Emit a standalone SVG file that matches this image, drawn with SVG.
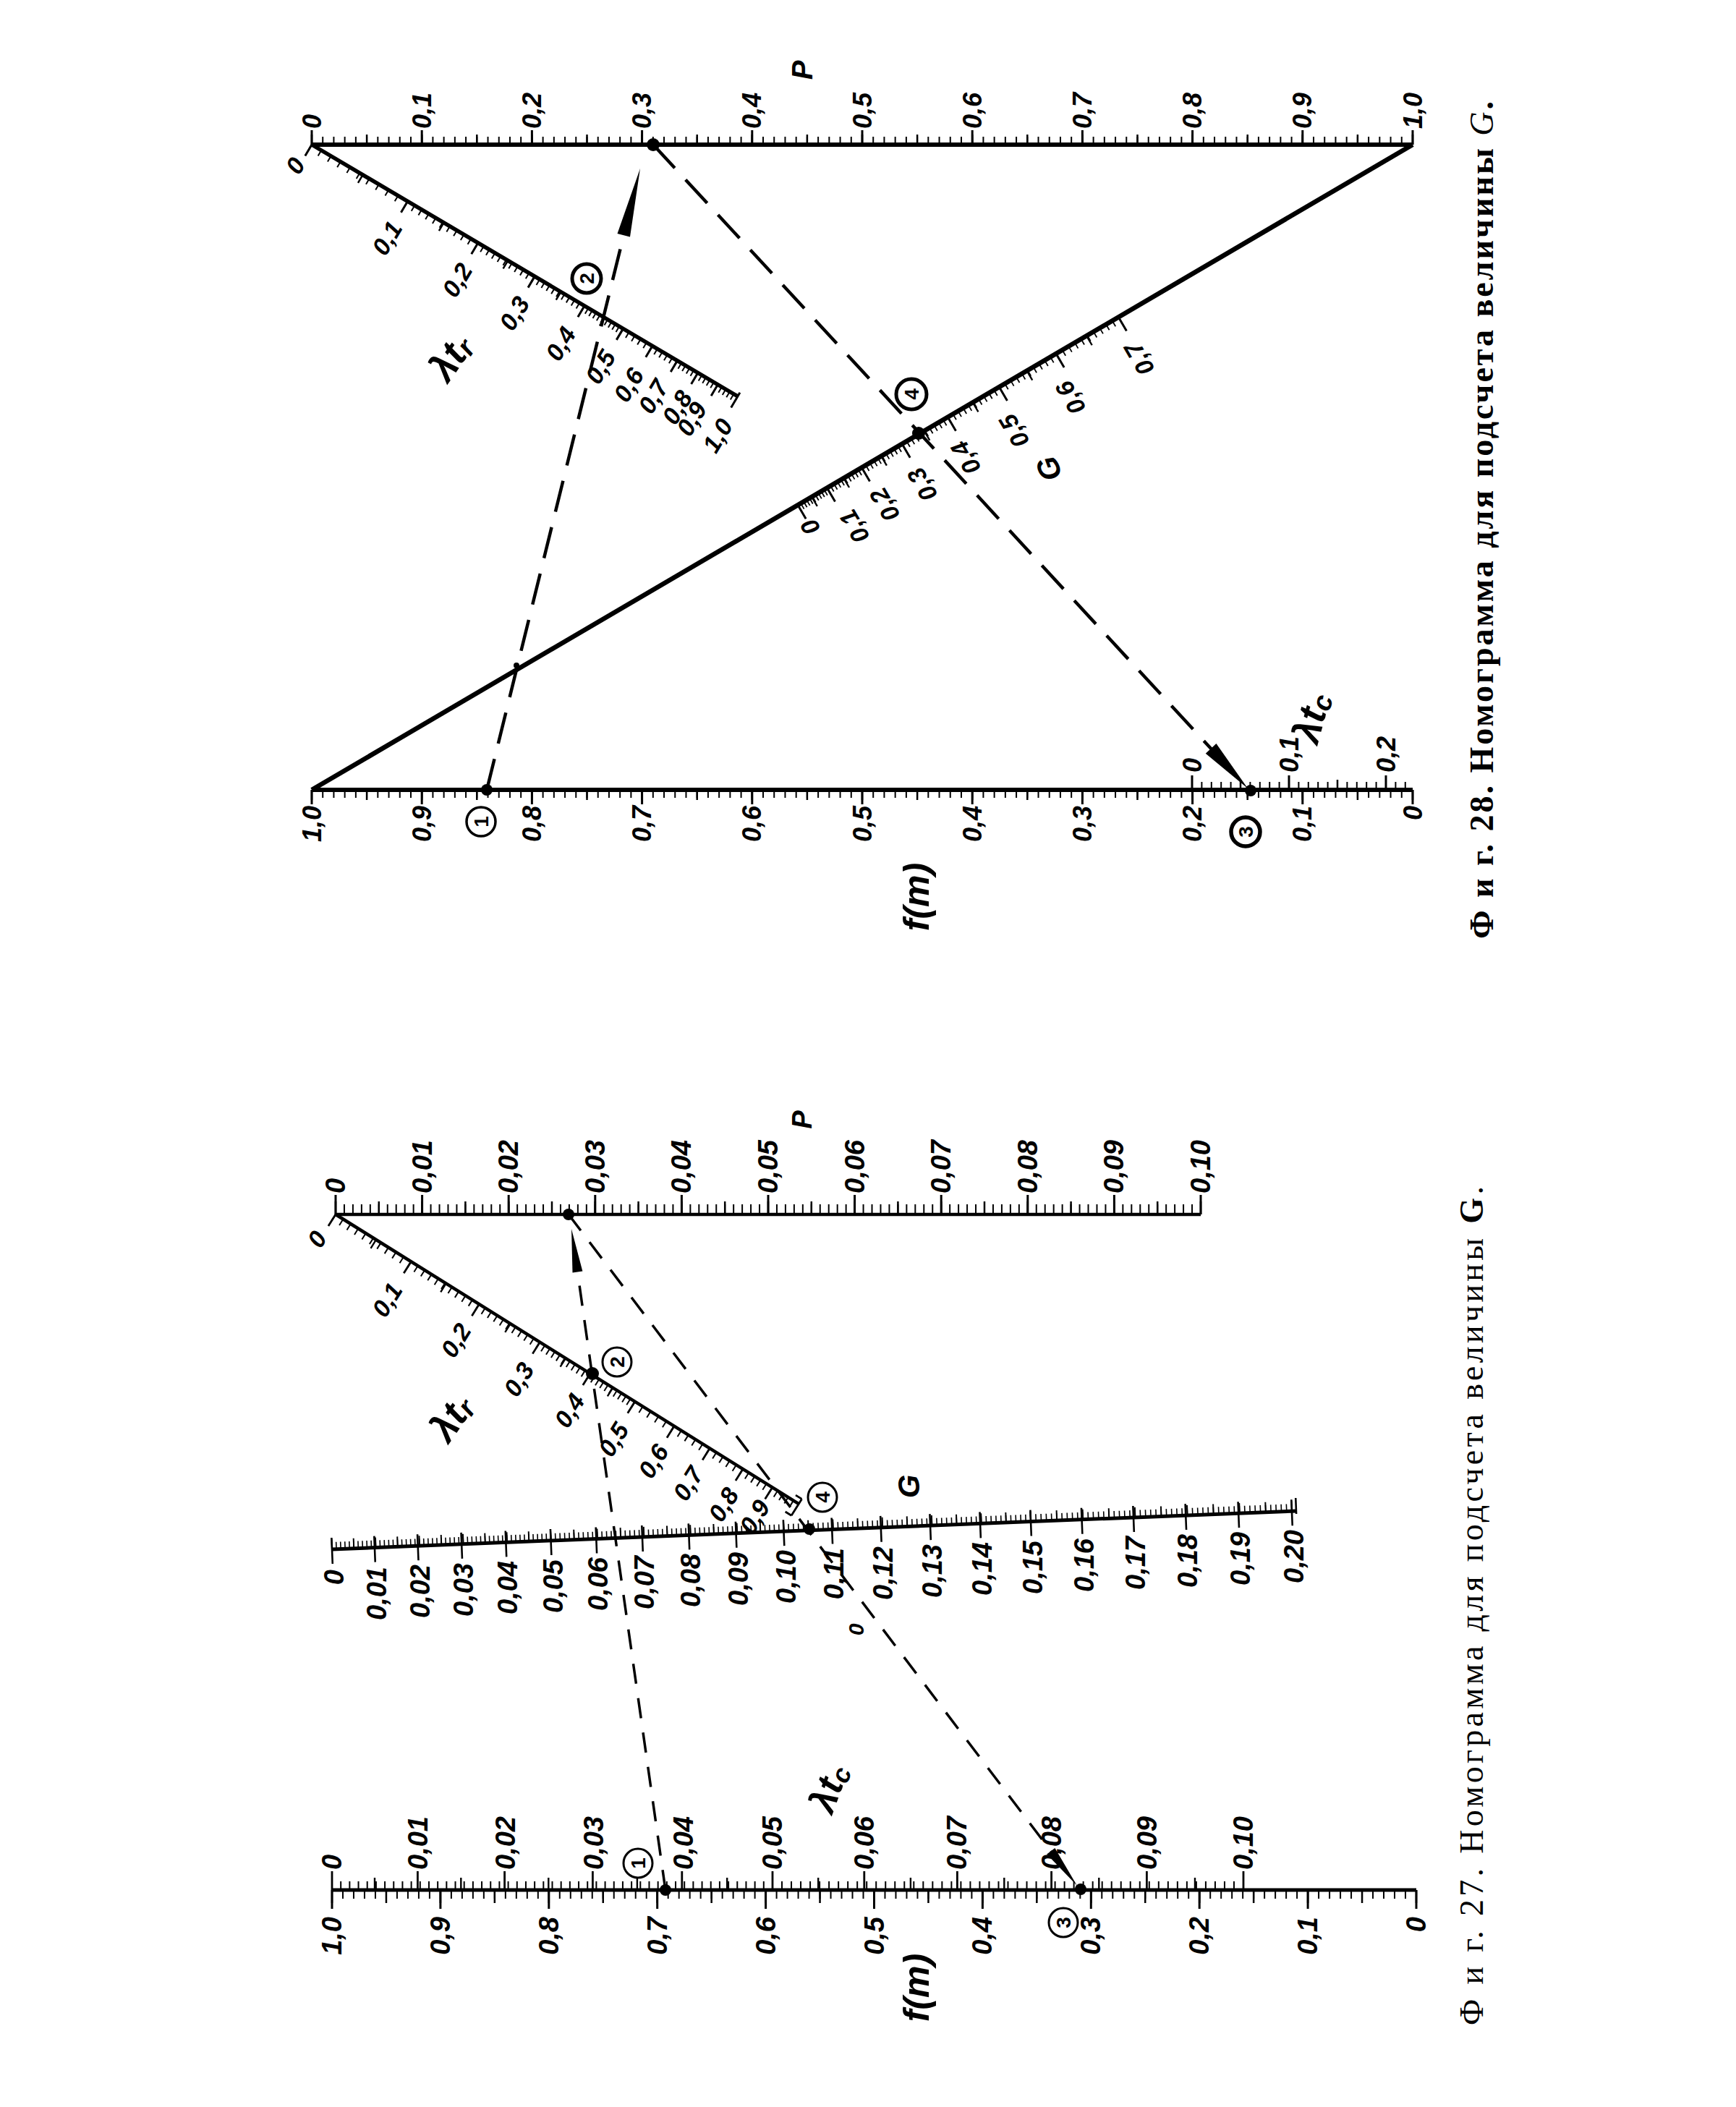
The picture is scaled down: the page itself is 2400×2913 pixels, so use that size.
<svg xmlns="http://www.w3.org/2000/svg" width="2400" height="2913" viewBox="0 0 2400 2913">
<style>
.ln{stroke:#000;fill:none;stroke-linecap:butt}
.tk{stroke:#000;fill:none}
.d28{stroke:#000;fill:none;stroke-width:4.5;stroke-dasharray:44 22}
.d27{stroke:#000;fill:none;stroke-width:3.5;stroke-dasharray:28 20}
.t{font-family:"Liberation Sans",Arial,sans-serif;font-style:italic;font-weight:bold;dominant-baseline:central;fill:#000}
.a{font-size:36px}
.b{font-size:38px}
.r{font-size:34px}
.e{text-anchor:end}
.m{text-anchor:middle}
.c{fill:none;stroke:#000}
.cd{font-family:"Liberation Sans",Arial,sans-serif;font-weight:bold;font-size:28px;text-anchor:middle;dominant-baseline:central;fill:#000}
.cap{font-family:"Liberation Serif","Times New Roman",serif;font-size:46px;fill:#000}
.dot{fill:#000}
</style>
<rect width="2400" height="2913" fill="#fff"/>

<!-- ===================== FIG 28 ===================== -->
<g id="fig28">
 <g id="fig28-P-scale">
  <line class="ln" x1="431" y1="200" x2="1953" y2="200" stroke-width="6"/>
  <line class="tk" x1="430" y1="194.5" x2="1954" y2="194.5" stroke-width="11" stroke-dasharray="2 13.22"/>
  <line class="tk" x1="429.75" y1="193" x2="1954.25" y2="193" stroke-width="14" stroke-dasharray="2.5 73.6"/>
  <line class="tk" x1="429.5" y1="190" x2="1954.5" y2="190" stroke-width="20" stroke-dasharray="3 149.2"/>
  <text class="t a" transform="translate(431,178) rotate(-90)">0</text>
  <text class="t a" transform="translate(583.2,178) rotate(-90)">0,1</text>
  <text class="t a" transform="translate(735.4,178) rotate(-90)">0,2</text>
  <text class="t a" transform="translate(887.6,178) rotate(-90)">0,3</text>
  <text class="t a" transform="translate(1039.8,178) rotate(-90)">0,4</text>
  <text class="t a" transform="translate(1192,178) rotate(-90)">0,5</text>
  <text class="t a" transform="translate(1344.2,178) rotate(-90)">0,6</text>
  <text class="t a" transform="translate(1496.4,178) rotate(-90)">0,7</text>
  <text class="t a" transform="translate(1648.6,178) rotate(-90)">0,8</text>
  <text class="t a" transform="translate(1800.8,178) rotate(-90)">0,9</text>
  <text class="t a" transform="translate(1953,178) rotate(-90)">1,0</text>
  <text class="t m" font-size="40" font-weight="normal" transform="translate(1109,97) rotate(-90)">P</text>
 </g>

 <g id="fig28-lambda-tr-scale">
  <g transform="translate(431,200) rotate(30.58)">
   <line class="ln" x1="0" y1="0" x2="684" y2="0" stroke-width="5.5"/>
   <g class="tk" stroke-width="9">
    <line x1="-1" y1="4.5" x2="155" y2="4.5" stroke-dasharray="2 13.4"/>
    <line x1="153" y1="4.5" x2="268" y2="4.5" stroke-dasharray="2 9.3"/>
    <line x1="266" y1="4.5" x2="359" y2="4.5" stroke-dasharray="2 7.1"/>
    <line x1="357" y1="4.5" x2="439" y2="4.5" stroke-dasharray="2 6"/>
    <line x1="437" y1="4.5" x2="501" y2="4.5" stroke-dasharray="2 4.2"/>
    <line x1="499" y1="4.5" x2="548" y2="4.5" stroke-dasharray="2 7.4"/>
    <line x1="546" y1="4.5" x2="588" y2="4.5" stroke-dasharray="2 6"/>
    <line x1="586" y1="4.5" x2="621" y2="4.5" stroke-dasharray="2 4.6"/>
    <line x1="619" y1="4.5" x2="653" y2="4.5" stroke-dasharray="2 4.4"/>
    <line x1="651" y1="4.5" x2="685" y2="4.5" stroke-dasharray="2 4.4"/>
   </g>
   <path class="tk" stroke-width="2.5" d="M82 0v13M212 0v13M315 0v13M400 0v13M470 0v13"/>
   <path class="tk" stroke-width="3" d="M0 0v18M154 0v18M267 0v18M358 0v18M438 0v18M500 0v18M547 0v18M587 0v18M620 0v18M652 0v18M684 -6v24"/>
  </g>
  <text class="t r m" transform="translate(408,229) rotate(-59)">0</text>
  <text class="t r m" transform="translate(535,329) rotate(-59)">0,1</text>
  <text class="t r m" transform="translate(632,387) rotate(-59)">0,2</text>
  <text class="t r m" transform="translate(711,433) rotate(-59)">0,3</text>
  <text class="t r m" transform="translate(775,475) rotate(-59)">0,4</text>
  <text class="t r m" transform="translate(830,507) rotate(-59)">0,5</text>
  <text class="t r m" transform="translate(869,532) rotate(-59)">0,6</text>
  <text class="t r m" transform="translate(903,548) rotate(-59)">0,7</text>
  <text class="t r m" transform="translate(936,563) rotate(-59)">0,8</text>
  <text class="t r m" transform="translate(956,579) rotate(-59)">0,9</text>
  <text class="t r m" transform="translate(992,602) rotate(-59)">1,0</text>
  <text class="t m" font-size="54" transform="translate(622,494) rotate(-55)">λt<tspan font-size="38" dy="10">r</tspan></text>
 </g>

 <g id="fig28-G-scale">
  <line class="ln" x1="431" y1="1092" x2="1953" y2="200" stroke-width="6.5"/>
  <g transform="translate(431,1092) rotate(-30.37)">
   <g class="tk" stroke-width="9">
    <line x1="778" y1="4.5" x2="826.6" y2="4.5" stroke-dasharray="1.8 2.88"/>
    <line x1="824.8" y1="4.5" x2="882.2" y2="4.5" stroke-dasharray="1.8 3.76"/>
    <line x1="880.4" y1="4.5" x2="946.8" y2="4.5" stroke-dasharray="1.8 4.66"/>
    <line x1="945" y1="4.5" x2="1020.1" y2="4.5" stroke-dasharray="1.8 5.53"/>
    <line x1="1018.3" y1="4.5" x2="1102.4" y2="4.5" stroke-dasharray="1.8 6.43"/>
    <line x1="1100.6" y1="4.5" x2="1193.6" y2="4.5" stroke-dasharray="1.8 7.32"/>
    <line x1="1191.8" y1="4.5" x2="1293.6" y2="4.5" stroke-dasharray="1.8 8.2"/>
   </g>
   <path class="tk" stroke-width="2.4" d="M801.2 0v15M852.4 0v15M912.5 0v15M981.4 0v15M1059.2 0v15M1145.9 0v15M1241.5 0v15"/>
   <path class="tk" stroke-width="3" d="M778.9 0v22M825.7 0v22M881.3 0v22M945.9 0v22M1019.2 0v22M1101.5 0v22M1192.7 0v22M1292.7 0v22"/>
  </g>
  <text class="t r m" transform="translate(1120,729) rotate(-120.4)">0</text>
  <text class="t r m" transform="translate(1181,728) rotate(-120.4)">0,1</text>
  <text class="t r m" transform="translate(1223,698) rotate(-120.4)">0,2</text>
  <text class="t r m" transform="translate(1275,670) rotate(-120.4)">0,3</text>
  <text class="t r m" transform="translate(1335,633) rotate(-120.4)">0,4</text>
  <text class="t r m" transform="translate(1402,596) rotate(-120.4)">0,5</text>
  <text class="t r m" transform="translate(1480,550) rotate(-120.4)">0,6</text>
  <text class="t r m" transform="translate(1575,496) rotate(-120.4)">0,7</text>
  <text class="t m" font-size="42" font-style="normal" transform="translate(1450,648) rotate(-110)">G</text>
 </g>

 <g id="fig28-f-scale">
  <line class="ln" x1="431" y1="1092" x2="1953" y2="1092" stroke-width="6"/>
  <line class="tk" x1="430" y1="1097.5" x2="1954" y2="1097.5" stroke-width="11" stroke-dasharray="2 13.22"/>
  <line class="tk" x1="429.75" y1="1099" x2="1954.25" y2="1099" stroke-width="14" stroke-dasharray="2.5 73.6"/>
  <line class="tk" x1="429.5" y1="1102" x2="1954.5" y2="1102" stroke-width="20" stroke-dasharray="3 149.2"/>
  <text class="t a e" transform="translate(431,1114) rotate(-90)">1,0</text>
  <text class="t a e" transform="translate(583.2,1114) rotate(-90)">0,9</text>
  <text class="t a e" transform="translate(735.4,1114) rotate(-90)">0,8</text>
  <text class="t a e" transform="translate(887.6,1114) rotate(-90)">0,7</text>
  <text class="t a e" transform="translate(1039.8,1114) rotate(-90)">0,6</text>
  <text class="t a e" transform="translate(1192,1114) rotate(-90)">0,5</text>
  <text class="t a e" transform="translate(1344.2,1114) rotate(-90)">0,4</text>
  <text class="t a e" transform="translate(1496.4,1114) rotate(-90)">0,3</text>
  <text class="t a e" transform="translate(1648.6,1114) rotate(-90)">0,2</text>
  <text class="t a e" transform="translate(1800.8,1114) rotate(-90)">0,1</text>
  <text class="t a e" transform="translate(1953,1114) rotate(-90)">0</text>
  <text class="t m" font-size="50" font-weight="normal" transform="translate(1267,1240) rotate(-90)">f(m)</text>
 </g>

 <g id="fig28-lambda-tc-scale">
  <line class="tk" x1="1647" y1="1086.5" x2="1954" y2="1086.5" stroke-width="11" stroke-dasharray="2 11.4"/>
  <path class="tk" stroke-width="2.5" d="M1715 1092V1078M1849 1092V1078"/>
  <path class="tk" stroke-width="3" d="M1648 1092V1072M1782 1092V1072M1916 1092V1072"/>
  <text class="t a" transform="translate(1648,1068) rotate(-90)">0</text>
  <text class="t a" transform="translate(1782,1068) rotate(-90)">0,1</text>
  <text class="t a" transform="translate(1916,1068) rotate(-90)">0,2</text>
  <text class="t m" font-size="54" transform="translate(1812,992) rotate(-75)">λt<tspan font-size="38" dy="10">c</tspan></text>
 </g>

 <g id="fig28-connectors">
  <path class="d28" d="M673 1092L870.6 291.3"/>
  <polygon points="885,233 870.98,327.4 853.5,323.08"/>
  <path class="d28" d="M903 200L1691.1 1053.3"/>
  <polygon points="1725,1090 1681.46,1028.12 1666.76,1041.69"/>
 </g>

 <g id="fig28-point-1">
  <circle class="dot" cx="673" cy="1092" r="8"/>
  <circle class="c" cx="665" cy="1136" r="20" stroke-width="3.5"/>
  <text class="cd" font-weight="normal" transform="translate(665,1136) rotate(-90)">1</text>
 </g>
 <g id="fig28-point-2">
  <circle class="dot" cx="714" cy="920" r="4"/>
  <circle class="c" cx="811" cy="385" r="20" stroke-width="5"/>
  <text class="cd" transform="translate(811,385) rotate(-90)">2</text>
 </g>
 <g id="fig28-point-3">
  <circle class="dot" cx="1729" cy="1093" r="8"/>
  <circle class="c" cx="1722" cy="1150" r="20" stroke-width="5.5"/>
  <text class="cd" transform="translate(1722,1150) rotate(-90)">3</text>
 </g>
 <g id="fig28-point-4">
  <circle class="dot" cx="1270" cy="599" r="9"/>
  <circle class="c" cx="1260" cy="545" r="21" stroke-width="5"/>
  <text class="cd" transform="translate(1260,545) rotate(-90)">4</text>
 </g>
 <g id="fig28-point-P">
  <circle class="dot" cx="903" cy="200" r="9"/>
 </g>

 <text class="cap" font-weight="bold" transform="translate(2064,1298) rotate(-90)" textLength="1158" lengthAdjust="spacing">Ф и г. 28. Номограмма для подсчета величины <tspan font-style="italic" font-weight="normal">G</tspan>.</text>
</g>

<!-- ===================== FIG 27 ===================== -->
<g id="fig27">
 <g id="fig27-P-scale">
  <line class="ln" x1="464" y1="1679" x2="1660" y2="1679" stroke-width="4.5"/>
  <line class="tk" x1="463" y1="1672" x2="1661" y2="1672" stroke-width="14" stroke-dasharray="2 9.96"/>
  <line class="tk" x1="462.75" y1="1670" x2="1661.25" y2="1670" stroke-width="18" stroke-dasharray="2.5 57.3"/>
  <line class="tk" x1="462.5" y1="1665.5" x2="1661.5" y2="1665.5" stroke-width="27" stroke-dasharray="3 116.6"/>
  <text class="t b" transform="translate(464,1650) rotate(-90)">0</text>
  <text class="t b" transform="translate(583.6,1650) rotate(-90)">0,01</text>
  <text class="t b" transform="translate(703.2,1650) rotate(-90)">0,02</text>
  <text class="t b" transform="translate(822.8,1650) rotate(-90)">0,03</text>
  <text class="t b" transform="translate(942.4,1650) rotate(-90)">0,04</text>
  <text class="t b" transform="translate(1062,1650) rotate(-90)">0,05</text>
  <text class="t b" transform="translate(1181.6,1650) rotate(-90)">0,06</text>
  <text class="t b" transform="translate(1301.2,1650) rotate(-90)">0,07</text>
  <text class="t b" transform="translate(1420.8,1650) rotate(-90)">0,08</text>
  <text class="t b" transform="translate(1540.4,1650) rotate(-90)">0,09</text>
  <text class="t b" transform="translate(1660,1650) rotate(-90)">0,10</text>
  <text class="t m" font-size="38" font-weight="normal" transform="translate(1109,1548) rotate(-90)">P</text>
 </g>

 <g id="fig27-lambda-tr-scale">
  <g transform="translate(464,1679) rotate(32.01)">
   <line class="ln" x1="0" y1="0" x2="755" y2="0" stroke-width="4.5"/>
   <g class="tk" stroke-width="10">
    <line x1="-1" y1="5" x2="124" y2="5" stroke-dasharray="2 10.3"/>
    <line x1="122" y1="5" x2="235" y2="5" stroke-dasharray="2 9.1"/>
    <line x1="233" y1="5" x2="334" y2="5" stroke-dasharray="2 7.9"/>
    <line x1="332" y1="5" x2="416" y2="5" stroke-dasharray="2 6.2"/>
    <line x1="414" y1="5" x2="489" y2="5" stroke-dasharray="2 5.3"/>
    <line x1="487" y1="5" x2="553" y2="5" stroke-dasharray="2 10.8"/>
    <line x1="551" y1="5" x2="611" y2="5" stroke-dasharray="2 9.6"/>
    <line x1="609" y1="5" x2="665" y2="5" stroke-dasharray="2 8.8"/>
    <line x1="663" y1="5" x2="713" y2="5" stroke-dasharray="2 7.6"/>
    <line x1="711" y1="5" x2="756" y2="5" stroke-dasharray="2 6.6"/>
   </g>
   <path class="tk" stroke-width="2.4" d="M66 0v14M180 0v14M285 0v14M375 0v14M452 0v14"/>
   <path class="tk" stroke-width="2.8" d="M0 0v19M123 0v19M234 0v19M333 0v19M415 0v19M488 0v19M552 0v19M610 0v19M664 0v19M712 0v19M755 -8v27M745 -8h10M745 19h10"/>
  </g>
  <text class="t r m" transform="translate(438,1713) rotate(-58)">0</text>
  <text class="t r m" transform="translate(535,1797) rotate(-58)">0,1</text>
  <text class="t r m" transform="translate(630,1853) rotate(-58)">0,2</text>
  <text class="t r m" transform="translate(717,1907) rotate(-58)">0,3</text>
  <text class="t r m" transform="translate(787,1950) rotate(-58)">0,4</text>
  <text class="t r m" transform="translate(848,1990) rotate(-58)">0,5</text>
  <text class="t r m" transform="translate(903,2020) rotate(-58)">0,6</text>
  <text class="t r m" transform="translate(951,2051) rotate(-58)">0,7</text>
  <text class="t r m" transform="translate(1000,2080) rotate(-58)">0,8</text>
  <text class="t r m" transform="translate(1043,2097) rotate(-58)">0,9</text>
  <text class="t m" font-size="54" transform="translate(623,1960) rotate(-55)">λt<tspan font-size="38" dy="10">r</tspan></text>
 </g>

 <g id="fig27-G-scale">
  <g transform="translate(459,2142) rotate(-2.277)">
   <line class="ln" x1="0" y1="0" x2="1334" y2="0" stroke-width="5"/>
   <g class="tk" stroke-width="10">
    <line x1="-0.8" y1="-5" x2="303.6" y2="-5" stroke-dasharray="1.6 4.456"/>
    <line x1="302" y1="-5" x2="625.8" y2="-5" stroke-dasharray="1.6 4.844"/>
    <line x1="624.2" y1="-5" x2="967.6" y2="-5" stroke-dasharray="1.6 5.236"/>
    <line x1="966" y1="-5" x2="1328.8" y2="-5" stroke-dasharray="1.6 5.624"/>
   </g>
   <g class="tk" stroke-width="14">
    <line x1="-1" y1="-7" x2="303.8" y2="-7" stroke-dasharray="2 28.28"/>
    <line x1="301.8" y1="-7" x2="626" y2="-7" stroke-dasharray="2 30.22"/>
    <line x1="624" y1="-7" x2="967.8" y2="-7" stroke-dasharray="2 32.18"/>
    <line x1="965.8" y1="-7" x2="1329" y2="-7" stroke-dasharray="2 34.12"/>
   </g>
   <path class="tk" stroke-width="2.6" d="M0 -16V20M59 -16V20M118.8 -16V20M179.3 -16V20M240.6 -16V20M302.8 -16V20M365.6 -16V20M429.3 -16V20M493.8 -16V20M559 -16V20M625 -16V20M691.8 -16V20M759.4 -16V20M827.7 -16V20M896.8 -16V20M966.8 -16V20M1037.4 -16V20M1108.9 -16V20M1181.2 -16V20M1254.2 -16V20M1328 -16V20M1334 -18V4"/>
  </g>
  <text class="t b e" transform="translate(462,2170) rotate(-90)">0</text>
  <text class="t b e" transform="translate(521,2166) rotate(-90)">0,01</text>
  <text class="t b e" transform="translate(580.7,2163) rotate(-90)">0,02</text>
  <text class="t b e" transform="translate(641.2,2161) rotate(-90)">0,03</text>
  <text class="t b e" transform="translate(702.4,2158) rotate(-90)">0,04</text>
  <text class="t b e" transform="translate(764.6,2156) rotate(-90)">0,05</text>
  <text class="t b e" transform="translate(827.3,2153) rotate(-90)">0,06</text>
  <text class="t b e" transform="translate(891,2151) rotate(-90)">0,07</text>
  <text class="t b e" transform="translate(955.4,2148) rotate(-90)">0,08</text>
  <text class="t b e" transform="translate(1020.6,2146) rotate(-90)">0,09</text>
  <text class="t b e" transform="translate(1086.5,2143) rotate(-90)">0,10</text>
  <text class="t b e" transform="translate(1153.3,2140) rotate(-90)">0,11</text>
  <text class="t b e" transform="translate(1220.8,2138) rotate(-90)">0,12</text>
  <text class="t b e" transform="translate(1289,2135) rotate(-90)">0,13</text>
  <text class="t b e" transform="translate(1358.1,2132) rotate(-90)">0,14</text>
  <text class="t b e" transform="translate(1428,2130) rotate(-90)">0,15</text>
  <text class="t b e" transform="translate(1498.6,2127) rotate(-90)">0,16</text>
  <text class="t b e" transform="translate(1570,2124) rotate(-90)">0,17</text>
  <text class="t b e" transform="translate(1642.3,2121) rotate(-90)">0,18</text>
  <text class="t b e" transform="translate(1715.2,2118) rotate(-90)">0,19</text>
  <text class="t b e" transform="translate(1789,2115) rotate(-90)">0,20</text>
  <text class="t m" font-size="42" font-style="normal" transform="translate(1256,2055) rotate(-90)">G</text>
  <text class="t m" font-size="30" font-weight="normal" transform="translate(1183,2253) rotate(-90)">0</text>
 </g>

 <g id="fig27-f-scale">
  <line class="ln" x1="459" y1="2613" x2="1958" y2="2613" stroke-width="5"/>
  <line class="tk" x1="458" y1="2619" x2="1959" y2="2619" stroke-width="12" stroke-dasharray="2 12.99"/>
  <line class="tk" x1="457.75" y1="2622" x2="1959.25" y2="2622" stroke-width="18" stroke-dasharray="2.5 72.45"/>
  <line class="tk" x1="457.5" y1="2626" x2="1959.5" y2="2626" stroke-width="26" stroke-dasharray="3 146.9"/>
  <text class="t b e" transform="translate(459,2650) rotate(-90)">1,0</text>
  <text class="t b e" transform="translate(608.9,2650) rotate(-90)">0,9</text>
  <text class="t b e" transform="translate(758.8,2650) rotate(-90)">0,8</text>
  <text class="t b e" transform="translate(908.7,2650) rotate(-90)">0,7</text>
  <text class="t b e" transform="translate(1058.6,2650) rotate(-90)">0,6</text>
  <text class="t b e" transform="translate(1208.5,2650) rotate(-90)">0,5</text>
  <text class="t b e" transform="translate(1358.4,2650) rotate(-90)">0,4</text>
  <text class="t b e" transform="translate(1508.3,2650) rotate(-90)">0,3</text>
  <text class="t b e" transform="translate(1658.2,2650) rotate(-90)">0,2</text>
  <text class="t b e" transform="translate(1808.1,2650) rotate(-90)">0,1</text>
  <text class="t b e" transform="translate(1958,2650) rotate(-90)">0</text>
  <text class="t m" font-size="50" font-weight="normal" transform="translate(1267,2748) rotate(-90)">f(m)</text>
 </g>

 <g id="fig27-lambda-tc-scale">
  <line class="tk" x1="458" y1="2607" x2="1069" y2="2607" stroke-width="12" stroke-dasharray="2 10.18"/>
  <line class="tk" x1="1067" y1="2607" x2="1720" y2="2607" stroke-width="12" stroke-dasharray="2 11.02"/>
  <path class="tk" stroke-width="2.4" d="M518 2613V2596M637.3 2613V2596M758.3 2613V2596M880.9 2613V2596M1005.2 2613V2596M1131.2 2613V2596M1258.9 2613V2596M1388.3 2613V2596M1519.3 2613V2596M1652 2613V2596"/>
  <path class="tk" stroke-width="2.8" d="M459 2613V2587M577.4 2613V2587M697.6 2613V2587M819.4 2613V2587M942.8 2613V2587M1068 2613V2587M1194.8 2613V2587M1323.4 2613V2587M1453.6 2613V2587M1585.4 2613V2587M1719 2613V2587"/>
  <text class="t b" transform="translate(459,2585) rotate(-90)">0</text>
  <text class="t b" transform="translate(578,2585) rotate(-90)">0,01</text>
  <text class="t b" transform="translate(699,2585) rotate(-90)">0,02</text>
  <text class="t b" transform="translate(821,2585) rotate(-90)">0,03</text>
  <text class="t b" transform="translate(945,2585) rotate(-90)">0,04</text>
  <text class="t b" transform="translate(1068,2585) rotate(-90)">0,05</text>
  <text class="t b" transform="translate(1195,2585) rotate(-90)">0,06</text>
  <text class="t b" transform="translate(1323,2585) rotate(-90)">0,07</text>
  <text class="t b" transform="translate(1454,2585) rotate(-90)">0,08</text>
  <text class="t b" transform="translate(1586,2585) rotate(-90)">0,09</text>
  <text class="t b" transform="translate(1719,2585) rotate(-90)">0,10</text>
  <text class="t m" font-size="52" font-weight="normal" transform="translate(1145,2472) rotate(-70)">λt<tspan font-size="36" dy="10">c</tspan></text>
 </g>

 <g id="fig27-connectors">
  <path class="d27" d="M920 2613L795.6 1738.6"/>
  <polygon points="790,1699 805.37,1757.43 791.51,1759.39"/>
  <path class="d27" d="M786 1679L1464.9 2575.1"/>
  <polygon points="1489,2607 1458.38,2554.94 1447.22,2563.38"/>
 </g>

 <g id="fig27-point-1">
  <circle class="dot" cx="920" cy="2613" r="8"/>
  <circle class="c" cx="882" cy="2576" r="20" stroke-width="3"/>
  <text class="cd" font-weight="normal" transform="translate(882,2576) rotate(-90)">1</text>
 </g>
 <g id="fig27-point-2">
  <circle class="dot" cx="819" cy="1899" r="9"/>
  <circle class="c" cx="853" cy="1883" r="20" stroke-width="3"/>
  <text class="cd" font-weight="normal" transform="translate(853,1883) rotate(-90)">2</text>
 </g>
 <g id="fig27-point-3">
  <circle class="dot" cx="1494" cy="2612" r="8"/>
  <circle class="c" cx="1470" cy="2658" r="20" stroke-width="3"/>
  <text class="cd" font-weight="normal" transform="translate(1470,2658) rotate(-90)">3</text>
 </g>
 <g id="fig27-point-4">
  <circle class="dot" cx="1119" cy="2114" r="8"/>
  <circle class="c" cx="1137" cy="2070" r="20" stroke-width="3"/>
  <text class="cd" font-weight="normal" transform="translate(1137,2070) rotate(-90)">4</text>
 </g>
 <g id="fig27-point-P">
  <circle class="dot" cx="786" cy="1679" r="8"/>
 </g>

 <text class="cap" transform="translate(2050,2800) rotate(-90)" textLength="1160" lengthAdjust="spacing">Ф и г.  27. Номограмма для подсчета величины <tspan font-weight="bold">G</tspan>.</text>
</g>
</svg>
